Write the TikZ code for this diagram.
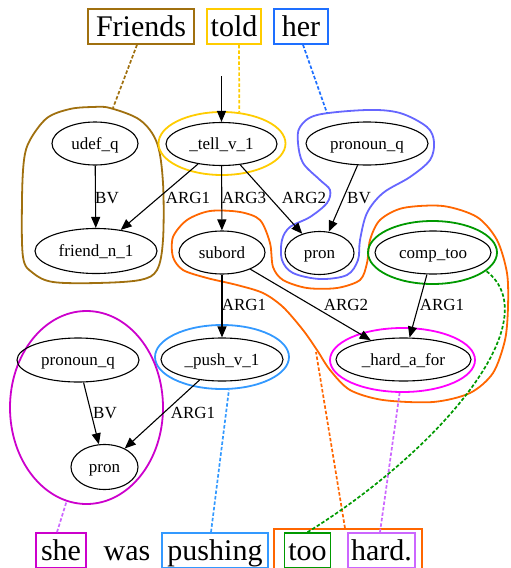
\documentclass[tikz,border=0pt]{standalone}
\usepackage{fontspec}
\setmainfont{Liberation Serif}
\usetikzlibrary{arrows.meta,shapes.geometric}
\definecolor{cbrown}{HTML}{A0700F}
\definecolor{cgold}{HTML}{FFCC00}
\definecolor{cblue}{HTML}{1E6FFF}
\definecolor{cperi}{HTML}{6666FF}
\definecolor{csky}{HTML}{3399FF}
\definecolor{cgreen}{HTML}{009900}
\definecolor{cmag}{HTML}{FF00FF}
\definecolor{clav}{HTML}{CC66FF}
\definecolor{cpurp}{HTML}{CC00CC}
\definecolor{corange}{HTML}{FF6600}
\begin{document}
\begin{tikzpicture}[x=1pt,y=-1pt,
  mrs/.style={draw=black,ellipse,line width=1.1pt,inner sep=0pt,font=\fontsize{17}{20}\selectfont,text height=11pt,text depth=0pt,minimum height=43pt},
  grp/.style={ellipse,line width=1.8pt,inner sep=0pt},
  word/.style={draw,line width=1.6pt,rectangle,inner sep=0pt,minimum height=35pt,font=\fontsize{30}{34}\selectfont,text height=22pt,text depth=3pt},
  lbl/.style={font=\fontsize{17}{20}\selectfont,inner sep=0pt,text height=11pt,text depth=0pt},
  arr/.style={-{Triangle[length=11pt,width=9pt]},line width=1.1pt},
  lnk/.style={dash pattern=on 3.5pt off 2pt,line width=1.7pt},
  blob/.style={line width=1.8pt}]
\useasboundingbox (0,0) rectangle (511,568);

% group outlines (blobs)
\draw[blob,draw=cbrown] plot[smooth cycle,tension=0.55] coordinates {(93,107) (110,108) (140,120) (157,143) (163,183) (163,240) (157,270) (140,280) (97,283) (53,282) (33,273) (23,257) (22,200) (24,160) (30,140) (47,118) (70,109)};
\coordinate (bF) at (113,108);

\draw[blob,draw=cperi] plot[smooth cycle,tension=0.55] coordinates {(367,110) (400,113) (427,127) (434,142) (430,160) (410,177) (383,193) (367,213) (360,240) (358,260) (347,275) (320,279) (293,273) (282,260) (282,240) (290,227) (310,217) (327,203) (330,190) (320,180) (303,163) (298,143) (300,127) (317,115)};
\coordinate (bH) at (327,113);

\draw[blob,draw=corange] plot[smooth cycle,tension=0.5] coordinates {(173,237) (187,220) (210,211) (240,212) (260,220) (270,243) (273,267) (283,280) (307,288) (337,288) (360,280) (367,263) (370,240) (380,220) (403,208) (443,206) (477,217) (497,240) (507,273) (508,307) (505,340) (493,373) (470,393) (433,402) (383,400) (350,390) (330,370) (317,350) (303,330) (283,307) (263,293) (237,285) (207,278) (183,270) (173,257)};
\coordinate (bO) at (316,352);

% top words
\node[word,draw=cbrown,minimum width=106pt] (wF) at (141,26.5) {Friends};
\node[word,draw=cgold,minimum width=54pt] (wT) at (234,26.5) {told};
\node[word,draw=cblue,minimum width=54pt] (wH) at (301,26.5) {her};

% bottom words
\node[word,draw=corange,minimum width=148pt,minimum height=43pt] (wOR) at (348,550.5) {};
\node[word,draw=cpurp,minimum width=50pt] (wS) at (61,550.5) {she};
\node[word,draw=none] (wW) at (127,550.5) {was};
\node[word,draw=csky,minimum width=106pt] (wP) at (215,550.5) {pushing};
\node[word,draw=cgreen,minimum width=46pt] (wTo) at (307.5,550.5) {too};
\node[word,draw=clav,minimum width=67pt] (wHa) at (381.5,550.5) {hard.};

% group ellipses
\node[grp,draw=cgold,minimum width=127pt,minimum height=63pt] (gT) at (222,143.5) {};
\node[grp,draw=cgreen,minimum width=129pt,minimum height=63pt] (gC) at (432.5,252.5) {};
\node[grp,draw=cmag,minimum width=145pt,minimum height=64pt] (gHa) at (402.5,360) {};
\node[grp,draw=csky,minimum width=134pt,minimum height=64pt] (gP) at (222,357) {};
\node[grp,draw=cpurp,minimum width=153pt,minimum height=193pt] (gS) at (86.5,407.5) {};

% predicate nodes
\node[mrs,minimum width=86pt] (udef) at (95,143.5) {udef\_q};
\node[mrs,minimum width=111pt] (tell) at (221.5,144) {\_tell\_v\_1};
\node[mrs,minimum width=122pt] (pq1) at (367,143.5) {pronoun\_q};
\node[mrs,minimum width=122pt,minimum height=45pt] (friend) at (96,251) {friend\_n\_1};
\node[mrs,minimum width=86pt] (subord) at (222,252.5) {subord};
\node[mrs,minimum width=69pt] (pron1) at (319.5,253) {pron};
\node[mrs,minimum width=116pt] (comp) at (433,252.5) {comp\_too};
\node[mrs,minimum width=122pt,minimum height=44pt] (pq2) at (78,360) {pronoun\_q};
\node[mrs,minimum width=122pt] (push) at (222,359.5) {\_push\_v\_1};
\node[mrs,minimum width=135pt] (hard) at (403.5,359.5) {\_hard\_a\_for};
\node[mrs,minimum width=67pt,minimum height=45pt] (pron2) at (104.5,467) {pron};

% edges
\coordinate (top) at (221.5,76);
\draw[arr] (top) -- (tell);
\draw[arr] (udef) -- (friend);
\node[lbl] (l0) at (107,198) {BV};
\draw[arr] (tell) -- (friend);
\node[lbl] (l1) at (188,198) {ARG1};
\draw[arr] (tell) -- (subord);
\node[lbl] (l2) at (244,198) {ARG3};
\draw[arr] (tell) -- (pron1);
\node[lbl] (l3) at (304,198) {ARG2};
\draw[arr] (pq1) -- (pron1);
\node[lbl] (l4) at (359,198) {BV};
\draw[arr] (subord) -- (push);
\node[lbl] (l5) at (244,305) {ARG1};
\draw[arr] (subord) -- (hard);
\node[lbl] (l6) at (346,305) {ARG2};
\draw[arr] (comp) -- (hard);
\node[lbl] (l7) at (442,305) {ARG1};
\draw[arr] (pq2) -- (pron2);
\node[lbl] (l8) at (105,413) {BV};
\draw[arr] (push) -- (pron2);
\node[lbl] (l9) at (193,413) {ARG1};

% dashed links
\draw[lnk,draw=cbrown] ([xshift=-4pt]wF.south) -- (bF);
\draw[lnk,draw=cgold] ([xshift=5pt]wT.south) -- (gT.61);
\draw[lnk,draw=cblue] ([xshift=2pt]wH.south) -- (bH);
\draw[lnk,draw=clav] ([xshift=-4pt]wS.north) -- (gS.-102);
\draw[lnk,draw=csky] ([xshift=-4pt]wP.north) -- (gP.-78);
\draw[lnk,draw=clav] ([xshift=-1.5pt]wHa.north) -- (gHa.-95);
\draw[lnk,draw=corange] ([xshift=-3pt]wOR.north) -- (bO);
\draw[lnk,draw=cgreen] (wTo.north) .. controls (440,450) and (550,320) .. (gC.-19);
\end{tikzpicture}
\end{document}
